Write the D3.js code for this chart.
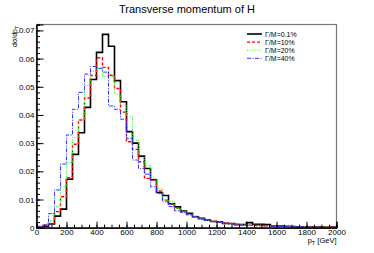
<!DOCTYPE html>
<html>
<head>
<meta charset="utf-8">
<script src="https://cdn.jsdelivr.net/npm/d3@7"></script>
<style>
  body { margin: 0; background: #fff; }
  text { font-family: "Liberation Sans", Arial, sans-serif; }
</style>
</head>
<body>
<div id="graph"></div>
<script>
// histogram bins: 40 GeV wide, 0 - 2000 GeV
var binWidth = 40;
var seriesNames = ["\u0393/M=0.1%", "\u0393/M=10%", "\u0393/M=20%", "\u0393/M=40%"];

var width01 = [0.0001, 0.0005, 0.0013, 0.0041, 0.0066, 0.0172, 0.0260, 0.0337, 0.0427, 0.0526,
  0.0622, 0.0686, 0.0644, 0.0522, 0.0447, 0.0341, 0.0300, 0.0254, 0.0210, 0.0170,
  0.0125, 0.0114, 0.0085, 0.0074, 0.0059, 0.0051, 0.0039, 0.0033, 0.0027, 0.0022,
  0.0021, 0.0015, 0.0015, 0.0011, 0.0011, 0.0018, 0.0012, 0.0012, 0.0011, 0.0006,
  0.0006, 0.0005, 0.0004, 0.0003, 0.0003, 0.0002, 0.0002, 0.0002, 0.0001, 0.0002];
var width10 = [0.0002, 0.0008, 0.0015, 0.0057, 0.0110, 0.0177, 0.0296, 0.0382, 0.0460, 0.0540,
  0.0603, 0.0569, 0.0541, 0.0494, 0.0410, 0.0305, 0.0278, 0.0234, 0.0175, 0.0169,
  0.0130, 0.0098, 0.0084, 0.0069, 0.0057, 0.0047, 0.0039, 0.0031, 0.0027, 0.0023,
  0.0021, 0.0018, 0.0014, 0.0012, 0.0010, 0.0009, 0.0008, 0.0008, 0.0007, 0.0006,
  0.0005, 0.0004, 0.0004, 0.0003, 0.0003, 0.0003, 0.0002, 0.0002, 0.0002, 0.0002];
var width20 = [0.0002, 0.0008, 0.0025, 0.0075, 0.0145, 0.0230, 0.0320, 0.0385, 0.0505, 0.0555,
  0.0565, 0.0536, 0.0536, 0.0475, 0.0435, 0.0394, 0.0310, 0.0250, 0.0222, 0.0175,
  0.0140, 0.0098, 0.0092, 0.0069, 0.0058, 0.0048, 0.0042, 0.0032, 0.0026, 0.0024,
  0.0020, 0.0016, 0.0014, 0.0012, 0.0013, 0.0010, 0.0009, 0.0008, 0.0007, 0.0006,
  0.0005, 0.0005, 0.0004, 0.0003, 0.0003, 0.0002, 0.0002, 0.0002, 0.0002, 0.0001];
var width40 = [0.0005, 0.0010, 0.0050, 0.0134, 0.0226, 0.0329, 0.0420, 0.0480, 0.0545, 0.0572,
  0.0566, 0.0552, 0.0432, 0.0420, 0.0385, 0.0317, 0.0240, 0.0210, 0.0190, 0.0145,
  0.0122, 0.0092, 0.0075, 0.0060, 0.0054, 0.0046, 0.0040, 0.0032, 0.0026, 0.0022,
  0.0019, 0.0016, 0.0013, 0.0012, 0.0010, 0.0009, 0.0008, 0.0007, 0.0006, 0.0005,
  0.0005, 0.0004, 0.0004, 0.0003, 0.0003, 0.0002, 0.0002, 0.0002, 0.0001, 0.0001];

var xTicks = [0, 200, 400, 600, 800, 1000, 1200, 1400, 1600, 1800, 2000];
var yTicks = [0, 0.01, 0.02, 0.03, 0.04, 0.05, 0.06, 0.07];

var W = 374, H = 253;
var plotLeft = 36.5, plotRight = 336.5, plotTop = 24.5, plotBottom = 227.7;

var svg = d3.select("#graph")
  .append("svg")
    .attr("width", W)
    .attr("height", H);

svg.append("rect").attr("width", W).attr("height", H).attr("fill", "#fff");

// title
svg.append("text")
  .attr("x", 187).attr("y", 13)
  .attr("text-anchor", "middle")
  .style("font-size", "11px")
  .text("Transverse momentum of H");

var x = d3.scaleLinear().domain([0, 2000]).range([plotLeft, plotRight]);
var y = d3.scaleLinear().domain([0, 0.0721]).range([plotBottom, plotTop]);

// frame
svg.append("rect")
  .attr("x", plotLeft).attr("y", plotTop)
  .attr("width", plotRight - plotLeft).attr("height", plotBottom - plotTop)
  .attr("fill", "none")
  .attr("stroke", "#777")
  .attr("stroke-width", 1.2);

// histograms
var styles = [
  {color: "#000000", width: 1.6, dash: null},
  {color: "#ff0000", width: 1.4, dash: "3,2"},
  {color: "#22ee22", width: 1.0, dash: "1,1.5"},
  {color: "#3333ff", width: 1.0, dash: "4,1.5,1,1.5"}
];
var dataReady = [width01, width10, width20, width40].map(function (vals, i) {
  var pts = vals.map(function (v, j) { return {e: j * binWidth, v: v}; });
  pts.push({e: vals.length * binWidth, v: vals[vals.length - 1]});
  return {name: seriesNames[i], values: pts, style: styles[i]};
});

var line = d3.line()
  .curve(d3.curveStepAfter)
  .x(function (d) { return x(d.e); })
  .y(function (d) { return y(d.v); });

svg.selectAll("path.hist")
  .data(dataReady)
  .enter()
  .append("path")
    .attr("class", "hist")
    .attr("d", function (d) { return line(d.values); })
    .attr("fill", "none")
    .attr("stroke", function (d) { return d.style.color; })
    .attr("stroke-width", function (d) { return d.style.width; })
    .attr("stroke-dasharray", function (d) { return d.style.dash; });

// x axis, ticks pointing inside
var xAxis = svg.append("g").attr("transform", "translate(0," + plotBottom + ")");
xAxis.call(d3.axisBottom(x).tickValues(d3.range(0, 2001, 50)).tickSize(-3).tickFormat(""));
xAxis.append("g").call(d3.axisBottom(x).tickValues(xTicks).tickSize(-6).tickPadding(2)
  .tickFormat(function (d) { return d; }));
xAxis.selectAll("path.domain").attr("stroke", "#000");
xAxis.selectAll("text").style("font-size", "8px").attr("fill", "#000");

// y axis
var yAxis = svg.append("g").attr("transform", "translate(" + plotLeft + ",0)");
yAxis.call(d3.axisLeft(y).tickValues(d3.range(0, 0.0721, 0.002)).tickSize(-3.5).tickFormat(""));
yAxis.append("g").call(d3.axisLeft(y).tickValues(yTicks).tickSize(-7).tickPadding(2)
  .tickFormat(function (d) { return d === 0 ? "0" : d3.format(".2f")(d); }));
yAxis.selectAll("text").style("font-size", "8px").attr("fill", "#000");

// axis titles
svg.append("text")
  .attr("transform", "translate(17,26) rotate(-90)")
  .attr("text-anchor", "end")
  .style("font-size", "7px")
  .html('d\u03c3/dp<tspan dy="2" font-size="5px">T</tspan>');

svg.append("text")
  .attr("x", plotRight).attr("y", 243)
  .attr("text-anchor", "end")
  .style("font-size", "7.5px")
  .html('p<tspan dy="2" font-size="5.5px">T</tspan><tspan dy="-2"> [GeV]</tspan>');

// legend
var legend = svg.selectAll("g.leg")
  .data(dataReady)
  .enter()
  .append("g")
    .attr("class", "leg")
    .attr("transform", function (d, i) { return "translate(247," + (34 + i * 8.1) + ")"; });
legend.append("line")
  .attr("x1", 0).attr("x2", 15)
  .attr("stroke", function (d) { return d.style.color; })
  .attr("stroke-width", function (d) { return d.style.width; })
  .attr("stroke-dasharray", function (d) { return d.style.dash; });
legend.append("text")
  .attr("x", 18).attr("y", 2.5)
  .style("font-size", "7px")
  .text(function (d) { return d.name; });
</script>
</body>
</html>
